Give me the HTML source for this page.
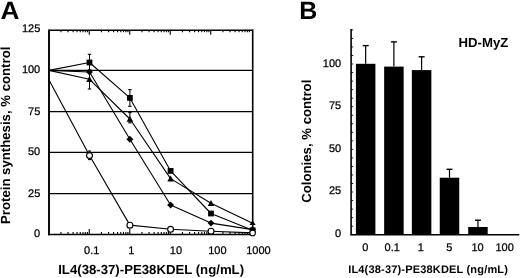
<!DOCTYPE html>
<html><head><meta charset="utf-8"><title>Figure</title>
<style>html,body{margin:0;padding:0;background:#fff;width:520px;height:278px;overflow:hidden}svg{display:block}</style>
</head><body>
<svg width="520" height="278" viewBox="0 0 520 278" font-family="'Liberation Sans', Arial, Helvetica, sans-serif" text-rendering="geometricPrecision">
<rect width="520" height="278" fill="#fff"/>
<line x1="49.0" y1="70.4" x2="252.7" y2="70.4" stroke="#000" stroke-width="1.3"/>
<line x1="49.0" y1="111.6" x2="252.7" y2="111.6" stroke="#000" stroke-width="1.3"/>
<line x1="49.0" y1="152.4" x2="252.7" y2="152.4" stroke="#000" stroke-width="1.3"/>
<line x1="49.0" y1="193.6" x2="252.7" y2="193.6" stroke="#000" stroke-width="1.3"/>
<line x1="60.94" y1="234.5" x2="60.94" y2="231.9" stroke="#000" stroke-width="1.1"/>
<line x1="60.94" y1="30.25" x2="60.94" y2="32.15" stroke="#000" stroke-width="1.1"/>
<line x1="68.07" y1="234.5" x2="68.07" y2="231.9" stroke="#000" stroke-width="1.1"/>
<line x1="68.07" y1="30.25" x2="68.07" y2="32.15" stroke="#000" stroke-width="1.1"/>
<line x1="73.13" y1="234.5" x2="73.13" y2="231.9" stroke="#000" stroke-width="1.1"/>
<line x1="73.13" y1="30.25" x2="73.13" y2="32.15" stroke="#000" stroke-width="1.1"/>
<line x1="77.06" y1="234.5" x2="77.06" y2="231.9" stroke="#000" stroke-width="1.1"/>
<line x1="77.06" y1="30.25" x2="77.06" y2="32.15" stroke="#000" stroke-width="1.1"/>
<line x1="80.27" y1="234.5" x2="80.27" y2="231.9" stroke="#000" stroke-width="1.1"/>
<line x1="80.27" y1="30.25" x2="80.27" y2="32.15" stroke="#000" stroke-width="1.1"/>
<line x1="82.98" y1="234.5" x2="82.98" y2="231.9" stroke="#000" stroke-width="1.1"/>
<line x1="82.98" y1="30.25" x2="82.98" y2="32.15" stroke="#000" stroke-width="1.1"/>
<line x1="85.33" y1="234.5" x2="85.33" y2="231.9" stroke="#000" stroke-width="1.1"/>
<line x1="85.33" y1="30.25" x2="85.33" y2="32.15" stroke="#000" stroke-width="1.1"/>
<line x1="87.40" y1="234.5" x2="87.40" y2="231.9" stroke="#000" stroke-width="1.1"/>
<line x1="87.40" y1="30.25" x2="87.40" y2="32.15" stroke="#000" stroke-width="1.1"/>
<line x1="89.25" y1="234.5" x2="89.25" y2="228.9" stroke="#000" stroke-width="1.1"/>
<line x1="89.25" y1="30.25" x2="89.25" y2="34.75" stroke="#000" stroke-width="1.1"/>
<line x1="101.44" y1="234.5" x2="101.44" y2="231.9" stroke="#000" stroke-width="1.1"/>
<line x1="101.44" y1="30.25" x2="101.44" y2="32.15" stroke="#000" stroke-width="1.1"/>
<line x1="108.57" y1="234.5" x2="108.57" y2="231.9" stroke="#000" stroke-width="1.1"/>
<line x1="108.57" y1="30.25" x2="108.57" y2="32.15" stroke="#000" stroke-width="1.1"/>
<line x1="113.63" y1="234.5" x2="113.63" y2="231.9" stroke="#000" stroke-width="1.1"/>
<line x1="113.63" y1="30.25" x2="113.63" y2="32.15" stroke="#000" stroke-width="1.1"/>
<line x1="117.56" y1="234.5" x2="117.56" y2="231.9" stroke="#000" stroke-width="1.1"/>
<line x1="117.56" y1="30.25" x2="117.56" y2="32.15" stroke="#000" stroke-width="1.1"/>
<line x1="120.77" y1="234.5" x2="120.77" y2="231.9" stroke="#000" stroke-width="1.1"/>
<line x1="120.77" y1="30.25" x2="120.77" y2="32.15" stroke="#000" stroke-width="1.1"/>
<line x1="123.48" y1="234.5" x2="123.48" y2="231.9" stroke="#000" stroke-width="1.1"/>
<line x1="123.48" y1="30.25" x2="123.48" y2="32.15" stroke="#000" stroke-width="1.1"/>
<line x1="125.83" y1="234.5" x2="125.83" y2="231.9" stroke="#000" stroke-width="1.1"/>
<line x1="125.83" y1="30.25" x2="125.83" y2="32.15" stroke="#000" stroke-width="1.1"/>
<line x1="127.90" y1="234.5" x2="127.90" y2="231.9" stroke="#000" stroke-width="1.1"/>
<line x1="127.90" y1="30.25" x2="127.90" y2="32.15" stroke="#000" stroke-width="1.1"/>
<line x1="129.75" y1="234.5" x2="129.75" y2="228.9" stroke="#000" stroke-width="1.1"/>
<line x1="129.75" y1="30.25" x2="129.75" y2="34.75" stroke="#000" stroke-width="1.1"/>
<line x1="141.94" y1="234.5" x2="141.94" y2="231.9" stroke="#000" stroke-width="1.1"/>
<line x1="141.94" y1="30.25" x2="141.94" y2="32.15" stroke="#000" stroke-width="1.1"/>
<line x1="149.07" y1="234.5" x2="149.07" y2="231.9" stroke="#000" stroke-width="1.1"/>
<line x1="149.07" y1="30.25" x2="149.07" y2="32.15" stroke="#000" stroke-width="1.1"/>
<line x1="154.13" y1="234.5" x2="154.13" y2="231.9" stroke="#000" stroke-width="1.1"/>
<line x1="154.13" y1="30.25" x2="154.13" y2="32.15" stroke="#000" stroke-width="1.1"/>
<line x1="158.06" y1="234.5" x2="158.06" y2="231.9" stroke="#000" stroke-width="1.1"/>
<line x1="158.06" y1="30.25" x2="158.06" y2="32.15" stroke="#000" stroke-width="1.1"/>
<line x1="161.27" y1="234.5" x2="161.27" y2="231.9" stroke="#000" stroke-width="1.1"/>
<line x1="161.27" y1="30.25" x2="161.27" y2="32.15" stroke="#000" stroke-width="1.1"/>
<line x1="163.98" y1="234.5" x2="163.98" y2="231.9" stroke="#000" stroke-width="1.1"/>
<line x1="163.98" y1="30.25" x2="163.98" y2="32.15" stroke="#000" stroke-width="1.1"/>
<line x1="166.33" y1="234.5" x2="166.33" y2="231.9" stroke="#000" stroke-width="1.1"/>
<line x1="166.33" y1="30.25" x2="166.33" y2="32.15" stroke="#000" stroke-width="1.1"/>
<line x1="168.40" y1="234.5" x2="168.40" y2="231.9" stroke="#000" stroke-width="1.1"/>
<line x1="168.40" y1="30.25" x2="168.40" y2="32.15" stroke="#000" stroke-width="1.1"/>
<line x1="170.25" y1="234.5" x2="170.25" y2="228.9" stroke="#000" stroke-width="1.1"/>
<line x1="170.25" y1="30.25" x2="170.25" y2="34.75" stroke="#000" stroke-width="1.1"/>
<line x1="182.44" y1="234.5" x2="182.44" y2="231.9" stroke="#000" stroke-width="1.1"/>
<line x1="182.44" y1="30.25" x2="182.44" y2="32.15" stroke="#000" stroke-width="1.1"/>
<line x1="189.57" y1="234.5" x2="189.57" y2="231.9" stroke="#000" stroke-width="1.1"/>
<line x1="189.57" y1="30.25" x2="189.57" y2="32.15" stroke="#000" stroke-width="1.1"/>
<line x1="194.63" y1="234.5" x2="194.63" y2="231.9" stroke="#000" stroke-width="1.1"/>
<line x1="194.63" y1="30.25" x2="194.63" y2="32.15" stroke="#000" stroke-width="1.1"/>
<line x1="198.56" y1="234.5" x2="198.56" y2="231.9" stroke="#000" stroke-width="1.1"/>
<line x1="198.56" y1="30.25" x2="198.56" y2="32.15" stroke="#000" stroke-width="1.1"/>
<line x1="201.77" y1="234.5" x2="201.77" y2="231.9" stroke="#000" stroke-width="1.1"/>
<line x1="201.77" y1="30.25" x2="201.77" y2="32.15" stroke="#000" stroke-width="1.1"/>
<line x1="204.48" y1="234.5" x2="204.48" y2="231.9" stroke="#000" stroke-width="1.1"/>
<line x1="204.48" y1="30.25" x2="204.48" y2="32.15" stroke="#000" stroke-width="1.1"/>
<line x1="206.83" y1="234.5" x2="206.83" y2="231.9" stroke="#000" stroke-width="1.1"/>
<line x1="206.83" y1="30.25" x2="206.83" y2="32.15" stroke="#000" stroke-width="1.1"/>
<line x1="208.90" y1="234.5" x2="208.90" y2="231.9" stroke="#000" stroke-width="1.1"/>
<line x1="208.90" y1="30.25" x2="208.90" y2="32.15" stroke="#000" stroke-width="1.1"/>
<line x1="210.75" y1="234.5" x2="210.75" y2="228.9" stroke="#000" stroke-width="1.1"/>
<line x1="210.75" y1="30.25" x2="210.75" y2="34.75" stroke="#000" stroke-width="1.1"/>
<line x1="222.94" y1="234.5" x2="222.94" y2="231.9" stroke="#000" stroke-width="1.1"/>
<line x1="222.94" y1="30.25" x2="222.94" y2="32.15" stroke="#000" stroke-width="1.1"/>
<line x1="230.07" y1="234.5" x2="230.07" y2="231.9" stroke="#000" stroke-width="1.1"/>
<line x1="230.07" y1="30.25" x2="230.07" y2="32.15" stroke="#000" stroke-width="1.1"/>
<line x1="235.13" y1="234.5" x2="235.13" y2="231.9" stroke="#000" stroke-width="1.1"/>
<line x1="235.13" y1="30.25" x2="235.13" y2="32.15" stroke="#000" stroke-width="1.1"/>
<line x1="239.06" y1="234.5" x2="239.06" y2="231.9" stroke="#000" stroke-width="1.1"/>
<line x1="239.06" y1="30.25" x2="239.06" y2="32.15" stroke="#000" stroke-width="1.1"/>
<line x1="242.27" y1="234.5" x2="242.27" y2="231.9" stroke="#000" stroke-width="1.1"/>
<line x1="242.27" y1="30.25" x2="242.27" y2="32.15" stroke="#000" stroke-width="1.1"/>
<line x1="244.98" y1="234.5" x2="244.98" y2="231.9" stroke="#000" stroke-width="1.1"/>
<line x1="244.98" y1="30.25" x2="244.98" y2="32.15" stroke="#000" stroke-width="1.1"/>
<line x1="247.33" y1="234.5" x2="247.33" y2="231.9" stroke="#000" stroke-width="1.1"/>
<line x1="247.33" y1="30.25" x2="247.33" y2="32.15" stroke="#000" stroke-width="1.1"/>
<line x1="249.40" y1="234.5" x2="249.40" y2="231.9" stroke="#000" stroke-width="1.1"/>
<line x1="249.40" y1="30.25" x2="249.40" y2="32.15" stroke="#000" stroke-width="1.1"/>
<line x1="49.0" y1="30.25" x2="252.7" y2="30.25" stroke="#000" stroke-width="1.7"/>
<line x1="48.0" y1="234.5" x2="253.5" y2="234.5" stroke="#000" stroke-width="1.6"/>
<line x1="49.0" y1="29.4" x2="49.0" y2="235.3" stroke="#000" stroke-width="1.9"/>
<line x1="252.7" y1="29.4" x2="252.7" y2="235.3" stroke="#000" stroke-width="1.6"/>
<polyline points="49.00,80.00 89.50,155.50 129.90,225.15 170.60,229.30 211.00,231.20 252.60,232.90" fill="none" stroke="#000" stroke-width="1.1" stroke-linejoin="round"/>
<polyline points="49.00,70.40 89.50,72.00 129.90,139.20 170.60,205.00 211.00,223.10 252.60,229.60" fill="none" stroke="#000" stroke-width="1.1" stroke-linejoin="round"/>
<polyline points="49.00,70.40 89.50,79.30 129.90,119.00 170.60,178.60 211.00,203.30 252.60,223.20" fill="none" stroke="#000" stroke-width="1.1" stroke-linejoin="round"/>
<polyline points="49.00,70.40 89.50,62.50 129.90,97.90 170.60,170.90 211.00,213.50 252.60,230.30" fill="none" stroke="#000" stroke-width="1.1" stroke-linejoin="round"/>
<line x1="89.50" y1="54.30" x2="89.50" y2="70.00" stroke="#000" stroke-width="1"/>
<line x1="87.80" y1="54.30" x2="91.20" y2="54.30" stroke="#000" stroke-width="1.1"/>
<line x1="87.80" y1="70.00" x2="91.20" y2="70.00" stroke="#000" stroke-width="1.1"/>
<line x1="89.50" y1="71.00" x2="89.50" y2="89.00" stroke="#000" stroke-width="1"/>
<line x1="87.80" y1="71.00" x2="91.20" y2="71.00" stroke="#000" stroke-width="1.1"/>
<line x1="87.80" y1="89.00" x2="91.20" y2="89.00" stroke="#000" stroke-width="1.1"/>
<line x1="129.90" y1="89.60" x2="129.90" y2="106.30" stroke="#000" stroke-width="1"/>
<line x1="128.20" y1="89.60" x2="131.60" y2="89.60" stroke="#000" stroke-width="1.1"/>
<line x1="128.20" y1="106.30" x2="131.60" y2="106.30" stroke="#000" stroke-width="1.1"/>
<line x1="129.90" y1="112.60" x2="129.90" y2="122.80" stroke="#000" stroke-width="1"/>
<line x1="128.20" y1="112.60" x2="131.60" y2="112.60" stroke="#000" stroke-width="1.1"/>
<line x1="128.20" y1="122.80" x2="131.60" y2="122.80" stroke="#000" stroke-width="1.1"/>
<line x1="89.50" y1="151.00" x2="89.50" y2="159.60" stroke="#000" stroke-width="1"/>
<line x1="88.00" y1="151.00" x2="91.00" y2="151.00" stroke="#000" stroke-width="1.1"/>
<line x1="88.00" y1="159.60" x2="91.00" y2="159.60" stroke="#000" stroke-width="1.1"/>
<circle cx="89.50" cy="155.50" r="2.95" fill="#fff" stroke="#000" stroke-width="1.15"/>
<path d="M89.50 68.55L92.95 72.00L89.50 75.45L86.05 72.00Z" fill="#000"/>
<path d="M89.50 76.10L92.80 82.10L86.20 82.10Z" fill="#000"/>
<rect x="86.60" y="59.60" width="5.8" height="5.8" fill="#000"/>
<circle cx="129.90" cy="225.15" r="2.95" fill="#fff" stroke="#000" stroke-width="1.15"/>
<path d="M129.90 135.75L133.35 139.20L129.90 142.65L126.45 139.20Z" fill="#000"/>
<path d="M129.90 115.80L133.20 121.80L126.60 121.80Z" fill="#000"/>
<rect x="127.00" y="95.00" width="5.8" height="5.8" fill="#000"/>
<circle cx="170.60" cy="229.30" r="2.95" fill="#fff" stroke="#000" stroke-width="1.15"/>
<path d="M170.60 201.55L174.05 205.00L170.60 208.45L167.15 205.00Z" fill="#000"/>
<path d="M170.60 175.40L173.90 181.40L167.30 181.40Z" fill="#000"/>
<rect x="167.70" y="168.00" width="5.8" height="5.8" fill="#000"/>
<circle cx="211.00" cy="231.20" r="2.95" fill="#fff" stroke="#000" stroke-width="1.15"/>
<path d="M211.00 219.65L214.45 223.10L211.00 226.55L207.55 223.10Z" fill="#000"/>
<path d="M211.00 200.10L214.30 206.10L207.70 206.10Z" fill="#000"/>
<rect x="208.10" y="210.60" width="5.8" height="5.8" fill="#000"/>
<path d="M252.60 226.15L256.05 229.60L252.60 233.05L249.15 229.60Z" fill="#000"/>
<path d="M252.60 220.2L255.70 225.1L249.50 225.1Z" fill="#000"/>
<rect x="249.70" y="227.40" width="5.8" height="5.8" fill="#000"/>
<circle cx="252.60" cy="232.90" r="2.8" fill="#fff" stroke="#000" stroke-width="1.1"/>
<text x="21.91" y="32.00" font-size="11" stroke="#000" stroke-width="0.25">125</text>
<text x="21.88" y="73.00" font-size="11" stroke="#000" stroke-width="0.25">100</text>
<text x="28.03" y="115.00" font-size="11" stroke="#000" stroke-width="0.25">75</text>
<text x="27.99" y="155.00" font-size="11" stroke="#000" stroke-width="0.25">50</text>
<text x="28.03" y="197.00" font-size="11" stroke="#000" stroke-width="0.25">25</text>
<text x="34.11" y="237.00" font-size="11" stroke="#000" stroke-width="0.25">0</text>
<text x="84.06" y="254.00" font-size="11" stroke="#000" stroke-width="0.25">0.1</text>
<text x="128.34" y="254.00" font-size="11" stroke="#000" stroke-width="0.25">1</text>
<text x="169.78" y="254.00" font-size="11" stroke="#000" stroke-width="0.25">10</text>
<text x="208.17" y="254.00" font-size="11" stroke="#000" stroke-width="0.25">100</text>
<text x="246.21" y="254.00" font-size="11" stroke="#000" stroke-width="0.25">1000</text>
<text x="58.19" y="274.00" font-size="13.2" font-weight="bold">IL4(38-37)-PE38KDEL (ng/mL)</text>
<text transform="translate(10.00,223.98) rotate(-90)" font-size="13.2" font-weight="bold">Protein synthesis, % control</text>
<text transform="translate(0.44,19.00) scale(1.05,1)" font-size="25" font-weight="bold">A</text>
<text x="299.20" y="19.00" font-size="25" font-weight="bold">B</text>
<line x1="351.1" y1="29.0" x2="351.1" y2="234.7" stroke="#000" stroke-width="1.6"/>
<line x1="350.3" y1="234.7" x2="519.3" y2="234.7" stroke="#000" stroke-width="1.4"/>
<line x1="351.1" y1="234.70" x2="353.20" y2="234.70" stroke="#000" stroke-width="0.9"/>
<line x1="351.1" y1="226.17" x2="353.20" y2="226.17" stroke="#000" stroke-width="0.9"/>
<line x1="351.1" y1="217.63" x2="353.20" y2="217.63" stroke="#000" stroke-width="0.9"/>
<line x1="351.1" y1="209.10" x2="353.20" y2="209.10" stroke="#000" stroke-width="0.9"/>
<line x1="351.1" y1="200.57" x2="353.20" y2="200.57" stroke="#000" stroke-width="0.9"/>
<line x1="351.1" y1="192.03" x2="353.20" y2="192.03" stroke="#000" stroke-width="0.9"/>
<line x1="351.1" y1="183.50" x2="353.20" y2="183.50" stroke="#000" stroke-width="0.9"/>
<line x1="351.1" y1="174.97" x2="353.20" y2="174.97" stroke="#000" stroke-width="0.9"/>
<line x1="351.1" y1="166.43" x2="353.20" y2="166.43" stroke="#000" stroke-width="0.9"/>
<line x1="351.1" y1="157.90" x2="353.20" y2="157.90" stroke="#000" stroke-width="0.9"/>
<line x1="351.1" y1="149.36" x2="353.20" y2="149.36" stroke="#000" stroke-width="0.9"/>
<line x1="351.1" y1="140.83" x2="353.20" y2="140.83" stroke="#000" stroke-width="0.9"/>
<line x1="351.1" y1="132.30" x2="353.20" y2="132.30" stroke="#000" stroke-width="0.9"/>
<line x1="351.1" y1="123.76" x2="353.20" y2="123.76" stroke="#000" stroke-width="0.9"/>
<line x1="351.1" y1="115.23" x2="353.20" y2="115.23" stroke="#000" stroke-width="0.9"/>
<line x1="351.1" y1="106.70" x2="353.20" y2="106.70" stroke="#000" stroke-width="0.9"/>
<line x1="351.1" y1="98.16" x2="353.20" y2="98.16" stroke="#000" stroke-width="0.9"/>
<line x1="351.1" y1="89.63" x2="353.20" y2="89.63" stroke="#000" stroke-width="0.9"/>
<line x1="351.1" y1="81.10" x2="353.20" y2="81.10" stroke="#000" stroke-width="0.9"/>
<line x1="351.1" y1="72.56" x2="353.20" y2="72.56" stroke="#000" stroke-width="0.9"/>
<line x1="351.1" y1="64.03" x2="353.20" y2="64.03" stroke="#000" stroke-width="0.9"/>
<line x1="351.1" y1="55.50" x2="353.20" y2="55.50" stroke="#000" stroke-width="0.9"/>
<line x1="351.1" y1="46.96" x2="353.20" y2="46.96" stroke="#000" stroke-width="0.9"/>
<line x1="351.1" y1="38.43" x2="353.20" y2="38.43" stroke="#000" stroke-width="0.9"/>
<line x1="351.1" y1="29.90" x2="353.20" y2="29.90" stroke="#000" stroke-width="0.9"/>
<text x="322.78" y="67.00" font-size="11" stroke="#000" stroke-width="0.25">100</text>
<text x="328.93" y="109.00" font-size="11" stroke="#000" stroke-width="0.25">75</text>
<text x="328.89" y="152.00" font-size="11" stroke="#000" stroke-width="0.25">50</text>
<text x="328.93" y="194.00" font-size="11" stroke="#000" stroke-width="0.25">25</text>
<text x="335.01" y="237.00" font-size="11" stroke="#000" stroke-width="0.25">0</text>
<rect x="355.90" y="63.80" width="19.5" height="170.90" fill="#000"/>
<line x1="365.65" y1="45.60" x2="365.65" y2="63.80" stroke="#000" stroke-width="1.2"/>
<line x1="362.65" y1="45.60" x2="368.65" y2="45.60" stroke="#000" stroke-width="1.4"/>
<rect x="384.15" y="66.60" width="19.5" height="168.10" fill="#000"/>
<line x1="393.90" y1="41.90" x2="393.90" y2="66.60" stroke="#000" stroke-width="1.2"/>
<line x1="390.90" y1="41.90" x2="396.90" y2="41.90" stroke="#000" stroke-width="1.4"/>
<rect x="411.85" y="70.10" width="19.5" height="164.60" fill="#000"/>
<line x1="421.60" y1="56.80" x2="421.60" y2="70.10" stroke="#000" stroke-width="1.2"/>
<line x1="418.60" y1="56.80" x2="424.60" y2="56.80" stroke="#000" stroke-width="1.4"/>
<rect x="439.75" y="177.70" width="19.5" height="57.00" fill="#000"/>
<line x1="449.50" y1="169.30" x2="449.50" y2="177.70" stroke="#000" stroke-width="1.2"/>
<line x1="446.50" y1="169.30" x2="452.50" y2="169.30" stroke="#000" stroke-width="1.4"/>
<rect x="468.20" y="227.00" width="19.5" height="7.70" fill="#000"/>
<line x1="477.95" y1="220.20" x2="477.95" y2="227.00" stroke="#000" stroke-width="1.2"/>
<line x1="474.95" y1="220.20" x2="480.95" y2="220.20" stroke="#000" stroke-width="1.4"/>
<text x="362.34" y="251.00" font-size="11" stroke="#000" stroke-width="0.25">0</text>
<text x="384.56" y="251.00" font-size="11" stroke="#000" stroke-width="0.25">0.1</text>
<text x="417.79" y="251.00" font-size="11" stroke="#000" stroke-width="0.25">1</text>
<text x="446.20" y="251.00" font-size="11" stroke="#000" stroke-width="0.25">5</text>
<text x="471.38" y="251.00" font-size="11" stroke="#000" stroke-width="0.25">10</text>
<text x="495.47" y="251.00" font-size="11" stroke="#000" stroke-width="0.25">100</text>
<text x="348.19" y="273.00" font-size="11" font-weight="bold" letter-spacing="0.18">IL4(38-37)-PE38KDEL (ng/mL)</text>
<text transform="translate(311.00,202.76) rotate(-90)" font-size="13.2" font-weight="bold">Colonies, % control</text>
<text x="458.52" y="47.00" font-size="13.2" font-weight="bold">HD-MyZ</text>
</svg>
</body></html>
